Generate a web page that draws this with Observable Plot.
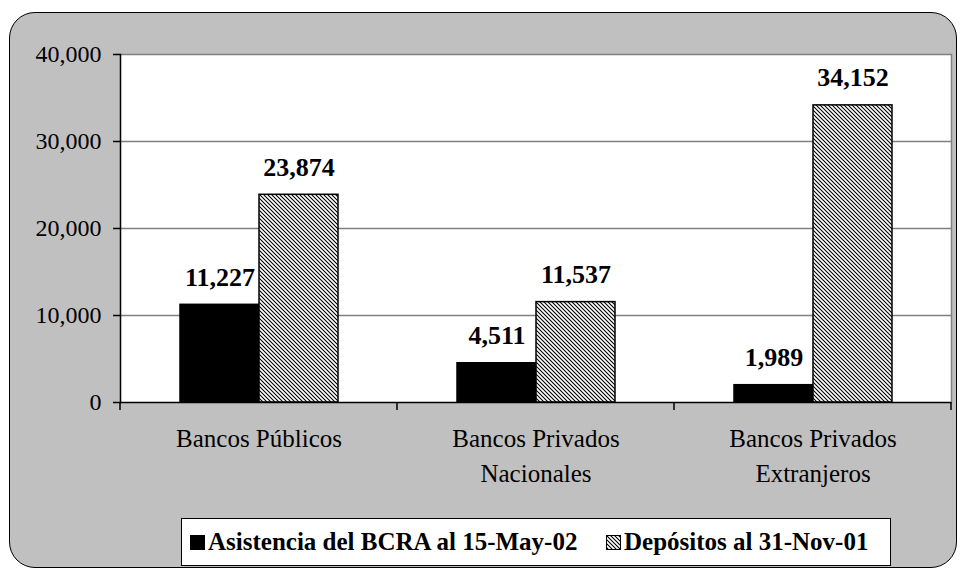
<!DOCTYPE html>
<html><head><meta charset="utf-8">
<script src="https://cdn.jsdelivr.net/npm/d3@7"></script>
<script src="https://cdn.jsdelivr.net/npm/@observablehq/plot@0.6"></script>
<style>
body{margin:0;background:#fff;}
#wrap, #wrap *{font-family:'Liberation Serif','Times New Roman',serif;}
#wrap{position:relative;width:962px;height:572px;overflow:hidden;}
#bg{position:absolute;left:9px;top:12px;width:948px;height:556px;background:#c0c0c0;border:1.5px solid #000;border-radius:26px;box-sizing:border-box;}
#chart{position:absolute;left:0;top:0;}
#legend{position:absolute;left:181px;top:518px;width:710px;height:48px;box-sizing:border-box;background:#fff;border:1.5px solid #000;font-weight:bold;font-size:25px;white-space:nowrap;}
#legend .sw{display:inline-block;width:15px;height:15px;margin-right:3px;}
#legend .item{position:absolute;top:0;height:100%;display:flex;align-items:center;}
#legend .i0{left:8px;}
#legend .i1{left:424px;}
</style></head>
<body>
<div id="wrap"><div id="bg"></div><div id="chart"></div><div id="legend"></div></div>
<script>
const categories = ["Bancos Públicos", "Bancos Privados\nNacionales", "Bancos Privados\nExtranjeros"];
const series = ["Asistencia del BCRA al 15-May-02", "Depósitos al 31-Nov-01"];
const asistencia = [11227, 4511, 1989];
const depositos = [23874, 11537, 34152];
const yTicks = [0, 10000, 20000, 30000, 40000];

const rows = [];
categories.forEach((c, i) => {
  rows.push({category: c, series: series[0], value: asistencia[i]});
  rows.push({category: c, series: series[1], value: depositos[i]});
});
const fmt = d3.format(",");
const serif = "'Liberation Serif','Times New Roman',serif";

const plot = Plot.plot({
  width: 962, height: 510,
  marginLeft: 119, marginRight: 10, marginTop: 54, marginBottom: 108,
  style: {background: "transparent", fontFamily: serif, color: "#000", overflow: "visible"},
  fx: {domain: categories, padding: 0, label: null},
  x: {domain: series, paddingInner: 0, paddingOuter: 0.74, axis: null},
  y: {domain: [0, 40000], label: null},
  marks: [
    Plot.frame({fill: "white", stroke: "none", insetLeft: -0.5, insetRight: -0.5}),
    Plot.gridY(yTicks.slice(1), {stroke: "#808080", strokeOpacity: 1, strokeWidth: 1.5}),
    Plot.frame({anchor: "right", facetAnchor: "right", stroke: "#808080", strokeWidth: 1.5}),
    Plot.barY(rows.filter(d => d.series === series[0]), {fx: "category", x: "series", y: "value", fill: "#000", stroke: "#000", strokeWidth: 1.5}),
    Plot.barY(rows.filter(d => d.series === series[1]), {fx: "category", x: "series", y: "value", fill: "url(#hatch)", stroke: "#000", strokeWidth: 1.5}),
    Plot.ruleY([0], {stroke: "#000", strokeWidth: 1.5}),
    Plot.frame({anchor: "left", facetAnchor: "left", stroke: "#000", strokeWidth: 1.5}),
    Plot.text(rows, {fx: "category", x: "series", y: "value", text: d => fmt(d.value), lineAnchor: "bottom", dy: -19, fontWeight: "bold", fontSize: 26, fill: "#000"}),
    Plot.axisY({ticks: yTicks, tickFormat: fmt, tickSize: 7, tickPadding: 12, fontSize: 24, stroke: "#000", strokeWidth: 1.5}),
    Plot.axisFx({anchor: "bottom", tickSize: 0, tickPadding: 20, fontSize: 25, lineHeight: 1.4, label: null})
  ]
});
document.getElementById("chart").appendChild(plot);

const svg = d3.select(plot);

// hatch pattern
const defs = svg.insert("defs", ":first-child");
const pat = defs.append("pattern").attr("id", "hatch").attr("patternUnits", "userSpaceOnUse")
  .attr("width", 4).attr("height", 4);
pat.append("rect").attr("width", 4).attr("height", 4).attr("fill", "#fff");
pat.append("path").attr("d", "M-1,-1L5,5M3,-1L5,1M-1,3L1,5").attr("stroke", "#000").attr("stroke-width", 1.1);

// category boundary ticks computed from the fx and y scales
const fx = plot.scale("fx"), ys = plot.scale("y");
const y0 = ys.apply(0);
const bounds = categories.map(c => fx.apply(c)).concat([fx.apply(categories[categories.length - 1]) + fx.bandwidth]);
svg.append("g").selectAll("line").data(bounds).join("line")
  .attr("x1", d => d).attr("x2", d => d).attr("y1", y0).attr("y2", y0 + 8)
  .attr("stroke", "#000").attr("stroke-width", 1.5);

// legend
const leg = document.getElementById("legend");
const sw0 = `<svg class="sw" viewBox="0 0 15 15"><rect x="0.5" y="0.5" width="14" height="14" fill="#000" stroke="#000"/></svg>`;
const sw1 = `<svg class="sw" viewBox="0 0 15 15"><rect x="0.5" y="0.5" width="14" height="14" fill="url(#hatch)" stroke="#000"/></svg>`;
leg.innerHTML = `<span class="item i0">${sw0}<span>${series[0]}</span></span><span class="item i1">${sw1}<span>${series[1]}</span></span>`;
</script>
</body></html>
